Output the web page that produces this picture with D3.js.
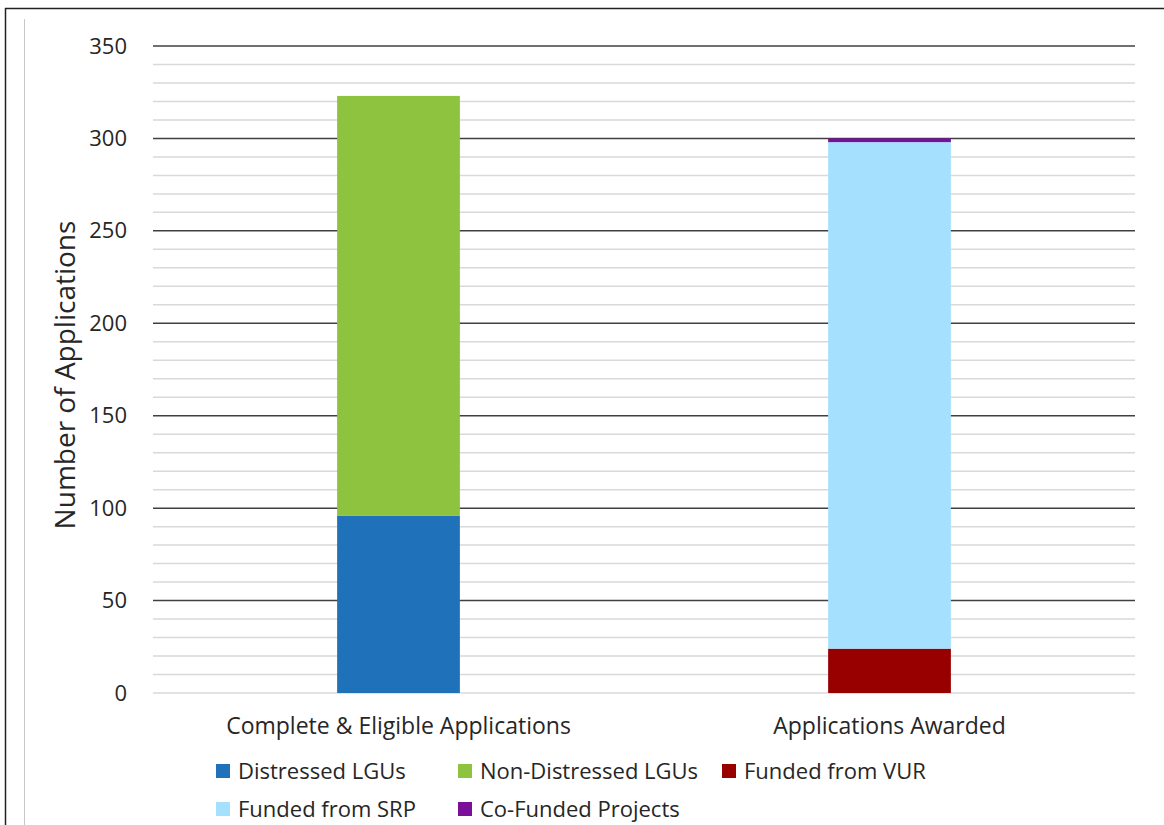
<!DOCTYPE html>
<html>
<head>
<meta charset="utf-8">
<script src="https://cdn.jsdelivr.net/npm/d3@7"></script>
<style>
  body { margin: 0; background: #fff; }
  svg text { font-family: "Open Sans", Lato, sans-serif; fill: #262626; }
</style>
</head>
<body>
<svg id="chart" width="1164" height="825"></svg>
<script>
// data
var categories = ["Complete & Eligible Applications", "Applications Awarded"];
var seriesNames = ["Distressed LGUs", "Non-Distressed LGUs", "Funded from VUR", "Funded from SRP", "Co-Funded Projects"];
var seriesColors = ["#1f72b9", "#8dc33f", "#980000", "#a5e1ff", "#7a0f9a"];
var distressed = [96, 0];
var nonDistressed = [227, 0];
var fundedVUR = [0, 24];
var fundedSRP = [0, 274];
var coFunded = [0, 2];
var yTicks = [0, 50, 100, 150, 200, 250, 300, 350];

var svg = d3.select("#chart");

// frame
svg.append("line").attr("x1", 5).attr("x2", 1164).attr("y1", 8.5).attr("y2", 8.5)
  .attr("stroke", "#222").attr("stroke-width", 1.5);
svg.append("line").attr("x1", 5.5).attr("x2", 5.5).attr("y1", 8).attr("y2", 825)
  .attr("stroke", "#222").attr("stroke-width", 1.5);
svg.append("line").attr("x1", 24.5).attr("x2", 24.5).attr("y1", 19).attr("y2", 825)
  .attr("stroke", "#c8c8c8").attr("stroke-width", 1);

var plotLeft = 153, plotRight = 1135, plotTop = 46, plotBottom = 693;

var x = d3.scaleBand().domain(categories).range([plotLeft, plotRight]).paddingInner(0.75).paddingOuter(0.375);
var y = d3.scaleLinear().domain([0, 350]).range([plotBottom, plotTop]);

// minor grid
svg.append("g").selectAll("line").data(d3.range(0, 351, 10).filter(function(v) { return v % 50 != 0 || v == 0; }))
  .enter().append("line")
  .attr("x1", plotLeft).attr("x2", plotRight)
  .attr("y1", function(d) { return y(d); }).attr("y2", function(d) { return y(d); })
  .attr("stroke", "#d9d9d9").attr("stroke-width", 1.5);

// major grid
svg.append("g").selectAll("line").data(yTicks.filter(function(v) { return v > 0; }))
  .enter().append("line")
  .attr("x1", plotLeft).attr("x2", plotRight)
  .attr("y1", function(d) { return y(d); }).attr("y2", function(d) { return y(d); })
  .attr("stroke", "#404040").attr("stroke-width", 1.5);

// y axis labels
var yAxis = svg.append("g").attr("transform", "translate(" + (plotLeft - 26) + ",0)")
  .call(d3.axisLeft(y).tickValues(yTicks).tickSize(0).tickPadding(0));
yAxis.select(".domain").remove();
yAxis.selectAll("text").style("font-size", "22px").style("font-family", "'Open Sans', sans-serif").attr("fill", "#262626");

svg.append("text")
  .attr("transform", "translate(75,375) rotate(-90)")
  .attr("text-anchor", "middle")
  .style("font-size", "28px")
  .text("Number of Applications");

// stacked bars
var table = categories.map(function(c, i) {
  return { cat: c, s0: distressed[i], s1: nonDistressed[i], s2: fundedVUR[i], s3: fundedSRP[i], s4: coFunded[i] };
});
var stack = d3.stack().keys(["s0", "s1", "s2", "s3", "s4"])(table);

svg.append("g").selectAll("g").data(stack).enter().append("g")
  .attr("fill", function(d, i) { return seriesColors[i]; })
  .selectAll("rect").data(function(d) { return d; }).enter().append("rect")
  .attr("x", function(d) { return x(d.data.cat); })
  .attr("width", x.bandwidth())
  .attr("y", function(d) { return y(d[1]); })
  .attr("height", function(d) { return y(d[0]) - y(d[1]); });

// category labels
svg.append("g").selectAll("text").data(categories).enter().append("text")
  .attr("x", function(d) { return x(d) + x.bandwidth() / 2; })
  .attr("y", 734)
  .attr("text-anchor", "middle")
  .style("font-size", "23px")
  .text(function(d) { return d; });

// legend
var legendPos = [[216, 771], [458, 771], [722, 771], [216, 809], [458, 809]];
var legend = svg.append("g").selectAll("g").data(seriesNames).enter().append("g")
  .attr("transform", function(d, i) { return "translate(" + legendPos[i][0] + "," + legendPos[i][1] + ")"; });
legend.append("rect").attr("x", 0).attr("y", -7).attr("width", 14).attr("height", 14)
  .attr("fill", function(d, i) { return seriesColors[i]; });
legend.append("text").attr("x", 22).attr("y", 8).style("font-size", "22px")
  .text(function(d) { return d; });
</script>
</body>
</html>
